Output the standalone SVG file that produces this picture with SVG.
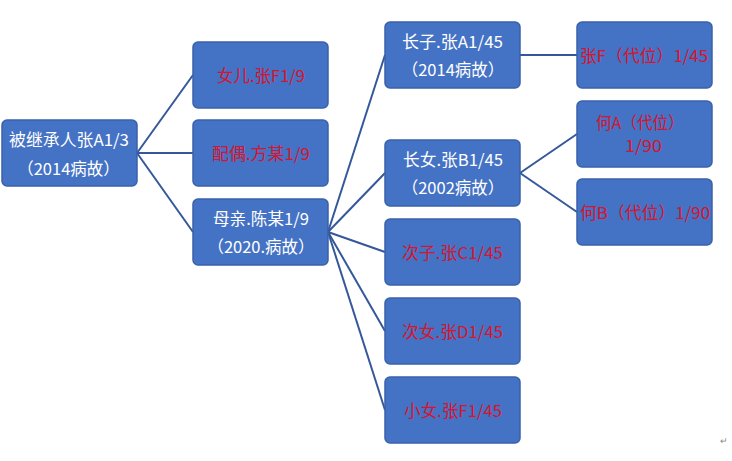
<svg xmlns="http://www.w3.org/2000/svg" width="732" height="461" viewBox="0 0 732 461">
<style>
.box{fill:#4472C4;stroke:#3A62AA;stroke-width:1.5}
text{font-family:"Noto Sans CJK SC","Liberation Sans",sans-serif;font-size:16.5px;text-anchor:middle;dominant-baseline:central}
.w{fill:#FFFFFF}
.r{fill:#D8142F}
#connectors line{stroke:#34589A;stroke-width:2;fill:none}
</style>
<rect width="732" height="461" fill="#FFFFFF"/>
<g id="connectors">
<line x1="137" y1="153" x2="193" y2="75"/>
<line x1="137" y1="153" x2="193" y2="153"/>
<line x1="137" y1="153" x2="193" y2="232"/>
<line x1="328" y1="232" x2="385" y2="55"/>
<line x1="328" y1="232" x2="385" y2="173"/>
<line x1="328" y1="232" x2="385" y2="252"/>
<line x1="328" y1="232" x2="385" y2="331"/>
<line x1="328" y1="232" x2="385" y2="410"/>
<line x1="520" y1="55" x2="577" y2="55"/>
<line x1="520" y1="173" x2="577" y2="134"/>
<line x1="520" y1="173" x2="577" y2="212"/>
</g>
<g id="root"><rect class="box" x="2" y="120" width="135" height="66" rx="5"/><text class="w" x="69" y="139" textLength="120" lengthAdjust="spacingAndGlyphs">被继承人张A1/3</text><text class="w" x="68.5" y="168">（2014病故）</text></g>
<g id="daughter"><rect class="box" x="193" y="42" width="135" height="66" rx="5"/><text class="r" x="261" y="75" textLength="88" lengthAdjust="spacingAndGlyphs">女儿.张F1/9</text></g>
<g id="spouse"><rect class="box" x="193" y="120" width="135" height="66" rx="5"/><text class="r" x="261" y="153" textLength="98" lengthAdjust="spacingAndGlyphs">配偶.方某1/9</text></g>
<g id="mother"><rect class="box" x="193" y="199" width="135" height="66" rx="5"/><text class="w" x="261" y="218" textLength="96" lengthAdjust="spacingAndGlyphs">母亲.陈某1/9</text><text class="w" x="261" y="246">（2020.病故）</text></g>
<g id="son1"><rect class="box" x="385" y="22" width="135" height="66" rx="5"/><text class="w" x="452.5" y="41" textLength="101" lengthAdjust="spacingAndGlyphs">长子.张A1/45</text><text class="w" x="453" y="69">（2014病故）</text></g>
<g id="dau1"><rect class="box" x="385" y="140" width="135" height="66" rx="5"/><text class="w" x="453" y="159" textLength="100" lengthAdjust="spacingAndGlyphs">长女.张B1/45</text><text class="w" x="453" y="187">（2002病故）</text></g>
<g id="son2"><rect class="box" x="385" y="219" width="135" height="66" rx="5"/><text class="r" x="452.5" y="252" textLength="101" lengthAdjust="spacingAndGlyphs">次子.张C1/45</text></g>
<g id="dau2"><rect class="box" x="385" y="298" width="135" height="66" rx="5"/><text class="r" x="452.5" y="331" textLength="101" lengthAdjust="spacingAndGlyphs">次女.张D1/45</text></g>
<g id="dau3"><rect class="box" x="385" y="377" width="135" height="66" rx="5"/><text class="r" x="453" y="410" textLength="98" lengthAdjust="spacingAndGlyphs">小女.张F1/45</text></g>
<g id="zhangF"><rect class="box" x="577" y="22" width="135" height="66" rx="5"/><text class="r" x="644" y="55" textLength="128" lengthAdjust="spacingAndGlyphs">张F（代位）1/45</text></g>
<g id="heA"><rect class="box" x="577" y="101" width="135" height="66" rx="5"/><text class="r" x="640" y="122" textLength="88" lengthAdjust="spacingAndGlyphs">何A（代位）</text><text class="r" x="643.5" y="145" textLength="37" lengthAdjust="spacingAndGlyphs">1/90</text></g>
<g id="heB"><rect class="box" x="577" y="179" width="135" height="66" rx="5"/><text class="r" x="645" y="212" textLength="130" lengthAdjust="spacingAndGlyphs">何B（代位）1/90</text></g>
<text x="724" y="440" style="font-size:9px;fill:#888888">↵</text>
</svg>
